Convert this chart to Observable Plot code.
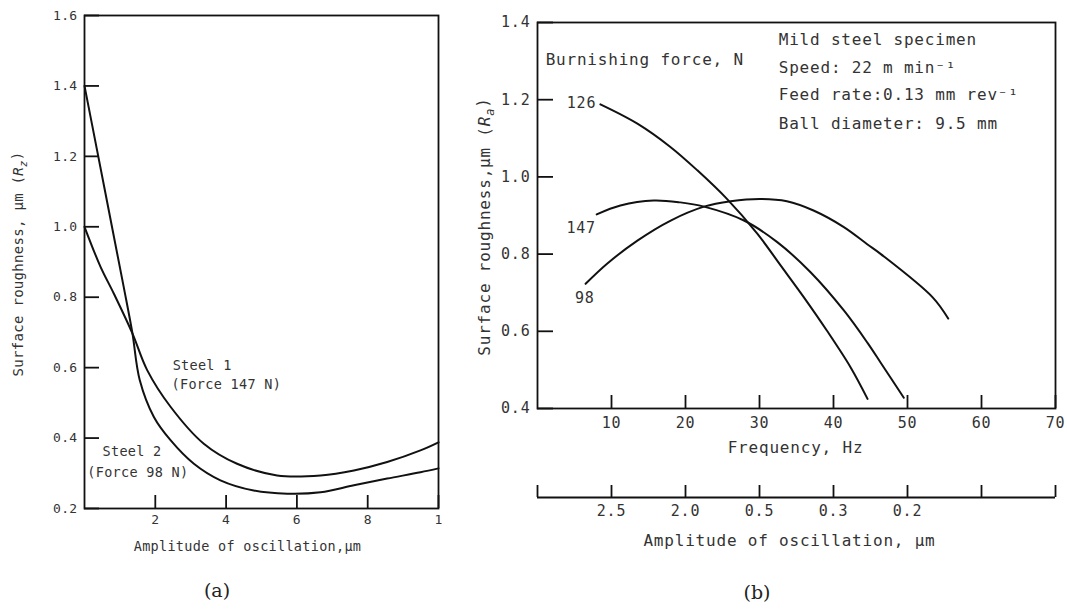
<!DOCTYPE html>
<html><head><meta charset="utf-8">
<script src="https://cdn.jsdelivr.net/npm/d3@7"></script>
<script src="https://cdn.jsdelivr.net/npm/@observablehq/plot@0.6"></script>
<style>
body{margin:0;background:#fff;width:1067px;height:610px;position:relative;overflow:hidden;font-family:"DejaVu Sans Mono",monospace}
#a{position:absolute;left:0;top:0;z-index:2}
#b{position:absolute;left:440px;top:0;z-index:1}
#a svg text{letter-spacing:0.3px}
#b svg text{letter-spacing:0.8px}
.cap{position:absolute;font-family:"DejaVu Serif",serif;font-size:19px;color:#222;transform:translate(-50%,-50%)}
</style></head><body>
<div id="a"></div><div id="b"></div>
<div class="cap" style="left:217px;top:590px">(a)</div>
<div class="cap" style="left:757px;top:592px">(b)</div>
<script>
// ---------- Panel (a): roughness vs amplitude ----------
const steel1Amp = [0, 0.45, 0.83, 1.35, 1.77, 2.43, 3.37, 4.31, 5.44, 6.67, 7.61, 8.55, 9.49, 10];
const steel1Rz  = [1.0, 0.887, 0.81, 0.698, 0.593, 0.489, 0.384, 0.327, 0.294, 0.294, 0.308, 0.332, 0.365, 0.388];
const steel2Amp = [0, 0.36, 0.78, 1.11, 1.35, 1.56, 1.96, 2.43, 3.09, 3.84, 4.78, 5.73, 6.67, 7.61, 8.55, 9.49, 10];
const steel2Rz  = [1.40, 1.215, 0.998, 0.828, 0.70, 0.565, 0.46, 0.394, 0.327, 0.28, 0.251, 0.242, 0.246, 0.266, 0.285, 0.303, 0.314];
const xTicksA = [2, 4, 6, 8, 10];
const yTicksA = [0.2, 0.4, 0.6, 0.8, 1.0, 1.2, 1.4, 1.6];
const labelsA = ["Steel 1", "(Force 147 N)", "Steel 2", "(Force 98 N)"];
const labelsAx = [2.49, 2.46, 0.51, 0.08];
const labelsAy = [0.607, 0.553, 0.36, 0.303];
const xTitleA = "Amplitude of oscillation,\u03bcm";
const yTitleA = "Surface roughness, \u03bcm (R_z)";

// ---------- Panel (b): roughness vs frequency ----------
const f126 = [8.5, 13.5, 18.0, 21.6, 25.6, 29.7, 32.8, 36.0, 39.1, 42.3, 44.6];
const r126 = [1.188, 1.138, 1.077, 1.017, 0.943, 0.853, 0.772, 0.688, 0.602, 0.507, 0.425];
const f147 = [8.0, 11.2, 15.7, 19.3, 22.5, 27.9, 32.4, 36.9, 41.4, 44.6, 46.4, 49.5];
const r147 = [0.903, 0.926, 0.939, 0.934, 0.923, 0.887, 0.831, 0.753, 0.654, 0.570, 0.518, 0.428];
const f98  = [6.5, 9.4, 13.5, 18.0, 22.5, 26.1, 30.1, 33.7, 37.3, 41.4, 44.6, 46.4, 53.4, 55.5];
const r98  = [0.723, 0.775, 0.835, 0.887, 0.923, 0.937, 0.943, 0.937, 0.913, 0.870, 0.825, 0.800, 0.688, 0.633];
const forceNames = ["126", "147", "98"];
const forceLabelF = [5.95, 5.9, 6.4];
const forceLabelR = [1.19, 0.866, 0.685];
const xTicksB = [10, 20, 30, 40, 50, 60, 70];
const yTicksB = [0.4, 0.6, 0.8, 1.0, 1.2, 1.4];
const ampTickFreq = [0, 10, 20, 30, 40, 50, 60, 70];
const ampTickLabel = ["", "2.5", "2.0", "0.5", "0.3", "0.2", "", ""];
const notesB = ["Burnishing force, N", "Mild steel specimen", "Speed: 22 m min\u207b\u00b9", "Feed rate:0.13 mm rev\u207b\u00b9", "Ball diameter: 9.5 mm"];
const notesBf = [1.1, 32.6, 32.6, 32.6, 32.6];
const notesBr = [1.304, 1.356, 1.283, 1.213, 1.138];
const xTitleB = "Frequency, Hz";
const x2TitleB = "Amplitude of oscillation, \u03bcm";
const yTitleB = "Surface roughness,\u03bcm (R_a)";

const ink = "#111", txt = "#333";
const zip = (xs, ys, extra = {}) => xs.map((x, i) => ({x, y: ys[i], ...extra}));

const seriesA = [
  ...zip(steel1Amp, steel1Rz, {s: "Steel 1"}),
  ...zip(steel2Amp, steel2Rz, {s: "Steel 2"})
];
const seriesB = [
  ...zip(f126, r126, {s: "126"}),
  ...zip(f147, r147, {s: "147"}),
  ...zip(f98, r98, {s: "98"})
];

function subscriptify(svg) {
  svg.querySelectorAll("text").forEach(t => {
    const m = t.textContent.match(/^(.*)\(R_(\w)\)(.*)$/);
    if (!m) return;
    t.textContent = "";
    const ns = "http://www.w3.org/2000/svg";
    const add = (s, attrs = {}) => { const e = document.createElementNS(ns, "tspan"); e.textContent = s; for (const k in attrs) e.setAttribute(k, attrs[k]); t.appendChild(e); };
    add(m[1] + "(");
    add("R", {"font-style": "italic"});
    add(m[2], {"font-style": "italic", dy: "0.35em", "font-size": "0.75em"});
    add(")" + m[3], {dy: "-0.35em"});
  });
}

const plotA = Plot.plot({
  width: 452, height: 565,
  marginLeft: 84, marginRight: 14, marginTop: 15, marginBottom: 57,
  x: {domain: [0, 10]},
  y: {domain: [0.2, 1.6]},
  style: {fontFamily: "DejaVu Sans Mono", fontSize: "13px", color: txt, background: "transparent"},
  marks: [
    Plot.frame({stroke: ink, strokeWidth: 1.8}),
    Plot.axisY(yTicksA, {tickSize: -15, tickPadding: 22, tickFormat: d3.format(".1f"), label: null, stroke: ink, strokeWidth: 1.8, fontSize: 13}),
    Plot.axisX(xTicksA, {tickSize: -13, tickPadding: 19, tickFormat: d => d === 10 ? "1" : String(d), label: null, stroke: ink, strokeWidth: 1.8, fontSize: 13}),
    Plot.line(seriesA, {x: "x", y: "y", z: "s", curve: "catmull-rom", stroke: ink, strokeWidth: 2}),
    Plot.text(labelsA, {x: (d, i) => labelsAx[i], y: (d, i) => labelsAy[i], text: d => d, textAnchor: "start", fontSize: 13.5, fill: txt}),
    Plot.text([xTitleA], {text: d => d, frameAnchor: "bottom", dx: -14, dy: 42, fontSize: 13.5, fill: txt}),
    Plot.text([yTitleA], {text: d => d, frameAnchor: "left", textAnchor: "middle", dx: -66, dy: 2, rotate: -90, fontSize: 14, fill: txt})
  ]
});
subscriptify(plotA);
document.getElementById("a").appendChild(plotA);

const plotB = Plot.plot({
  width: 627, height: 565,
  marginLeft: 97, marginRight: 12, marginTop: 22, marginBottom: 157,
  x: {domain: [0, 70]},
  y: {domain: [0.4, 1.4]},
  style: {fontFamily: "DejaVu Sans Mono", fontSize: "15px", color: txt, background: "white"},
  marks: [
    Plot.frame({stroke: ink, strokeWidth: 1.8}),
    Plot.axisY(yTicksB, {tickSize: -16, tickPadding: 23, tickFormat: d3.format(".1f"), label: null, stroke: ink, strokeWidth: 1.8, fontSize: 15}),
    Plot.axisX(xTicksB, {tickSize: -13, tickPadding: 22, tickFormat: d => String(d), label: null, stroke: ink, strokeWidth: 1.8, fontSize: 15}),
    Plot.ruleY([0.4], {dy: 89, stroke: ink, strokeWidth: 1.8}),
    Plot.axisX(ampTickFreq, {anchor: "bottom", dy: 89, tickSize: -12, tickPadding: 20, tickFormat: (d) => ampTickLabel[ampTickFreq.indexOf(d)], label: null, stroke: ink, strokeWidth: 1.8, fontSize: 15}),
    Plot.line(seriesB, {x: "x", y: "y", z: "s", curve: "catmull-rom", stroke: ink, strokeWidth: 2}),
    Plot.text(forceNames, {x: (d, i) => forceLabelF[i], y: (d, i) => forceLabelR[i], text: d => d, fontSize: 15, fill: txt}),
    Plot.text(notesB, {x: (d, i) => notesBf[i], y: (d, i) => notesBr[i], text: d => d, textAnchor: "start", fontSize: 16, fill: txt}),
    Plot.text([xTitleB], {text: d => d, frameAnchor: "bottom", dx: -1, dy: 44, fontSize: 16, fill: txt}),
    Plot.text([x2TitleB], {text: d => d, frameAnchor: "bottom", dx: -7, dy: 137, fontSize: 16, fill: txt}),
    Plot.text([yTitleB], {text: d => d, frameAnchor: "left", textAnchor: "middle", dx: -53, dy: 11, rotate: -90, fontSize: 16, fill: txt})
  ]
});
subscriptify(plotB);
document.getElementById("b").appendChild(plotB);
</script>
</body></html>
